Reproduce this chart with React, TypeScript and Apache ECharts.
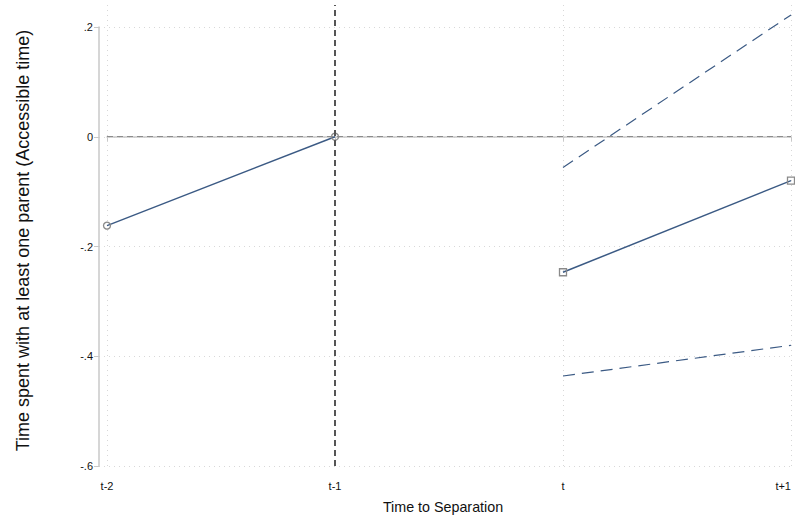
import React, { useEffect, useRef } from "react";
import * as echarts from "echarts";

const categories = ["t-2", "t-1", "t", "t+1"];
const coefPre = [-0.162, 0, null, null];
const coefPost = [null, null, -0.247, -0.08];
const upperCI = [null, null, -0.056, 0.222];
const lowerCI = [null, null, -0.436, -0.38];
const yTitle = "Time spent with at least one parent (Accessible time)";
const xTitle = "Time to Separation";

const fmt = (v: number) => {
  if (Math.abs(v) < 1e-9) return "0";
  const s = (Math.round(v * 10) / 10).toString();
  return s.replace("0.", ".");
};

const FONT = "Liberation Sans, Arial, sans-serif";
const LINE = "#3b5a84";
const MARK = "#8a8a8a";

export default function App() {
  const ref = useRef<HTMLDivElement>(null);
  useEffect(() => {
    if (!ref.current) return;
    const chart = echarts.init(ref.current, null, { renderer: "svg" });
    chart.setOption({
      animation: false,
      backgroundColor: "#ffffff",
      grid: [
        { left: 107, right: 4, top: 5, bottom: 53, outerBoundsMode: "none", containLabel: false },
        { left: 99, right: 4, top: 27, bottom: 53, outerBoundsMode: "none", containLabel: false },
      ],
      graphic: [
        {
          type: "text",
          x: 23,
          y: 240.5,
          rotation: Math.PI / 2,
          style: {
            text: yTitle,
            fill: "#111",
            font: `18px ${FONT}`,
            textAlign: "center",
            textVerticalAlign: "middle",
          },
        },
        {
          type: "text",
          x: 443,
          y: 507,
          style: {
            text: xTitle,
            fill: "#111",
            font: `14.3px ${FONT}`,
            textAlign: "center",
            textVerticalAlign: "middle",
          },
        },
      ],
      xAxis: [
        {
          gridIndex: 0,
          type: "category",
          data: categories,
          boundaryGap: false,
          offset: 8,
          axisLine: { lineStyle: { color: "#c8c8c8", width: 1.5 } },
          axisTick: { show: true, length: 5, lineStyle: { color: "#c8c8c8" } },
          axisLabel: {
            color: "#111",
            fontSize: 11,
            fontFamily: FONT,
            margin: 6,
            alignMaxLabel: "right",
          },
          splitLine: { show: true, lineStyle: { color: "#d8d8d8", type: [1, 4], width: 1 } },
        },
        {
          gridIndex: 1,
          type: "value",
          show: false,
          min: 0,
          max: 1,
        },
      ],
      yAxis: [
        {
          gridIndex: 0,
          type: "value",
          min: -0.6,
          max: 0.24,
          show: false,
          splitLine: { show: false },
        },
        {
          gridIndex: 1,
          type: "value",
          min: -0.6,
          max: 0.2,
          interval: 0.2,
          axisLine: { show: true, lineStyle: { color: "#c8c8c8", width: 1.5 } },
          axisTick: { show: true, length: 5, lineStyle: { color: "#c8c8c8" } },
          axisLabel: {
            color: "#111",
            fontSize: 11,
            fontFamily: FONT,
            margin: 6,
            formatter: (v: number) => fmt(v),
          },
          splitLine: { show: true, lineStyle: { color: "#d8d8d8", type: [1, 4], width: 1 } },
        },
      ],
      series: [
        {
          type: "line",
          xAxisIndex: 0,
          yAxisIndex: 0,
          data: upperCI,
          symbol: "none",
          lineStyle: { color: LINE, width: 1.2, type: [12, 7] },
          silent: true,
        },
        {
          type: "line",
          xAxisIndex: 0,
          yAxisIndex: 0,
          data: lowerCI,
          symbol: "none",
          lineStyle: { color: LINE, width: 1.2, type: [12, 7] },
          silent: true,
        },
        {
          type: "line",
          xAxisIndex: 0,
          yAxisIndex: 0,
          data: coefPre,
          symbol: "circle",
          symbolSize: 7,
          itemStyle: { color: "rgba(255,255,255,0)", borderColor: MARK, borderWidth: 1.3 },
          lineStyle: { color: LINE, width: 1.5 },
          markLine: {
            silent: true,
            symbol: "none",
            label: { show: false },
            data: [
              { yAxis: 0, lineStyle: { color: "#8c8c8c", type: [6, 4], width: 1.2 } },
              { xAxis: "t-1", lineStyle: { color: "#555555", type: [6, 4], width: 2 } },
            ],
          },
          z: 3,
        },
        {
          type: "line",
          xAxisIndex: 0,
          yAxisIndex: 0,
          data: coefPost,
          symbol: "rect",
          symbolSize: 7,
          itemStyle: { color: "rgba(255,255,255,0)", borderColor: MARK, borderWidth: 1.3 },
          lineStyle: { color: LINE, width: 1.5 },
          z: 3,
        },
      ],
    });
    return () => chart.dispose();
  }, []);
  return (
    <div
      ref={ref}
      style={{ position: "absolute", left: 0, top: 0, width: 795, height: 519 }}
    />
  );
}
